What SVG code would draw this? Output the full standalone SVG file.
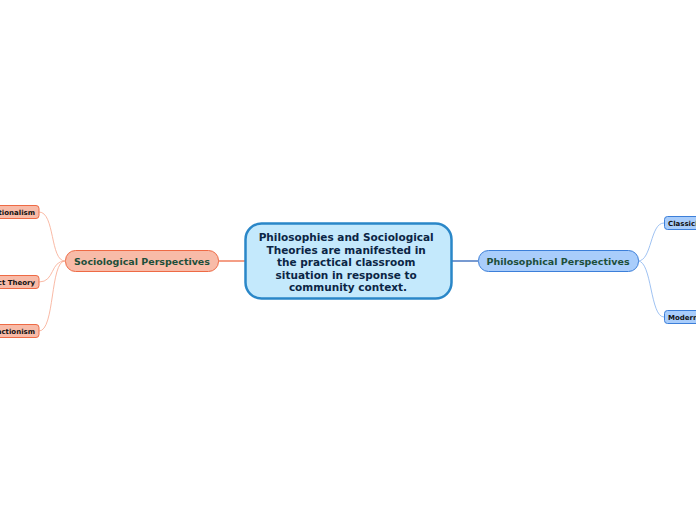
<svg xmlns="http://www.w3.org/2000/svg" width="696" height="520" viewBox="0 0 696 520">
<style>
text{font-family:"DejaVu Sans",Verdana,sans-serif;font-weight:bold}
.s{fill:#f8bba8;stroke:#ee6a45;stroke-width:1}
.p{fill:#a9cdfb;stroke:#3c7fd9;stroke-width:1}
.l{font-size:7px;fill:#111}
.m{font-size:9.5px;fill:#1d4f3a}
</style>
<rect width="696" height="520" fill="#fff"/>
<g id="connectors" fill="none">
<path d="M218,261 H245" stroke="#ee6a45" stroke-width="1.3"/>
<path d="M451,261 H478" stroke="#2d64b8" stroke-width="1.3"/>
<g stroke="#f7a88f" stroke-width="0.8">
<path d="M65,261 C50,261 55,212 39,212"/>
<path d="M65,261 C50,261 55,282 39,282"/>
<path d="M65,261 C50,261 55,331 39,331"/>
</g>
<g stroke="#86b3ef" stroke-width="0.8">
<path d="M638,261 C652,261 650,223 664,223"/>
<path d="M638,261 C652,261 650,317 664,317"/>
</g>
</g>
<g id="center">
<rect x="245.5" y="223.5" width="206" height="75" rx="16" fill="#c4e9fc" stroke="#2a87c8" stroke-width="2.5"/>
<text x="348" y="241" text-anchor="middle" font-size="10.5" fill="#0b2545">
<tspan x="348">Philosophies and Sociological</tspan>
<tspan x="348" dy="12.6">Theories are manifested in</tspan>
<tspan x="348" dy="12.6">the practical classroom</tspan>
<tspan x="348" dy="12.6">situation in response to</tspan>
<tspan x="348" dy="12.6">community context.</tspan>
</text>
</g>
<g id="sociological">
<rect class="s" x="65.5" y="250.5" width="153" height="21" rx="10"/>
<text class="m" x="142" y="265" text-anchor="middle">Sociological Perspectives</text>
</g>
<g id="philosophical">
<rect class="p" x="478.5" y="250.5" width="160" height="21" rx="10"/>
<text class="m" x="558" y="265" text-anchor="middle">Philosophical Perspectives</text>
</g>
<g id="functionalism">
<rect class="s" x="-20" y="205.5" width="59" height="13" rx="3"/>
<text class="l" x="35" y="214.5" text-anchor="end">Functionalism</text>
</g>
<g id="conflict">
<rect class="s" x="-20" y="275.5" width="59" height="13" rx="3"/>
<text class="l" x="35" y="284.5" text-anchor="end">Conflict Theory</text>
</g>
<g id="symbolic">
<rect class="s" x="-20" y="324.5" width="59" height="13" rx="3"/>
<text class="l" x="35" y="333.5" text-anchor="end">Symbolic Interactionism</text>
</g>
<g id="classicism">
<rect class="p" x="664.5" y="216.5" width="50" height="13" rx="3"/>
<text class="l" x="668" y="225.5">Classicism</text>
</g>
<g id="modernism">
<rect class="p" x="664.5" y="310.5" width="50" height="13" rx="3"/>
<text class="l" x="668" y="319.5">Modernism</text>
</g>
</svg>
